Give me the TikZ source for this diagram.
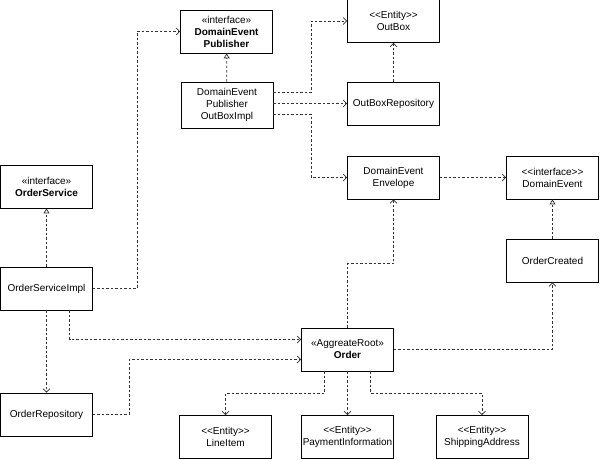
\documentclass[tikz,border=0pt]{standalone}
\usepackage{fontspec}
\setmainfont{Liberation Sans}
\usepackage{tikz}
\usetikzlibrary{positioning,calc,arrows.meta}
\definecolor{LineGray}{HTML}{333333}
\newcommand{\stereo}[1]{<\kern0pt<#1>\kern0pt>}

\begin{document}
\begin{tikzpicture}[
    x=1pt, y=-1pt,
    every node/.style={font=\fontsize{10}{12}\selectfont},
    box/.style={rectangle, draw=black, line width=0.8pt, minimum width=92pt, minimum height=43pt, inner sep=1pt, align=center},
    dep/.style={-{Straight Barb[length=3.5pt,width=7pt]}, dash pattern=on 2.5pt off 2pt, line width=0.7pt, color=LineGray},
    real/.style={-{Triangle[open,length=5pt,width=6pt]}, dash pattern=on 2.5pt off 2pt, line width=0.7pt, color=LineGray}
  ]
    \useasboundingbox (0,0) rectangle (600,459);

    % Publisher side (top)
    \node[box] (pub) at (226.5,31.5) {«interface»\\\textbf{DomainEvent}\\\textbf{Publisher}};
    \node[box] (outbox) at (393.5,21) {\stereo{Entity}\\OutBox};
    \node[box, minimum height=46pt] (pubimpl) at (227,105) {DomainEvent\\Publisher\\OutBoxImpl};
    \node[box] (outrepo) at (393.5,103.5) {OutBoxRepository};

    % Events (middle right)
    \node[box] (env) at (393.5,177.5) {DomainEvent\\Envelope};
    \node[box] (devent) at (552.5,177.5) {\stereo{interface}\\DomainEvent};
    \node[box] (created) at (552.5,260.5) {OrderCreated};

    % Service (left)
    \node[box] (osvc) at (46.5,186.5) {«interface»\\\textbf{OrderService}};
    \node[box] (osvcimpl) at (46.5,288.5) {OrderServiceImpl};
    \node[box] (orepo) at (46.5,414.5) {OrderRepository};

    % Aggregate (bottom)
    \node[box] (order) at (347.5,349.5) {«AggreateRoot»\\\textbf{Order}};
    \node[box] (line) at (225.5,437) {\stereo{Entity}\\LineItem};
    \node[box] (pay) at (347.5,437) {\stereo{Entity}\\PaymentInformation};
    \node[box] (ship) at (482,437) {\stereo{Entity}\\ShippingAddress};

    % Realizations
    \draw[real] (osvcimpl) -- (osvc);
    \draw[real] (pubimpl) -- (pub);
    \draw[real] (created) -- (devent);

    % Dependencies
    \draw[dep] (osvcimpl.east) -- ++(44,0) |- (pub.west);
    \draw[dep] ($(pubimpl.east)+(0,-13)$) -- ++(38,0) |- (outbox.west);
    \draw[dep] (pubimpl.east |- outrepo.west) -- (outrepo.west);
    \draw[dep] ($(pubimpl.east)+(0,9)$) -- ++(38,0) |- (env.west);
    \draw[dep] (outrepo) -- (outbox);
    \draw[dep] (env) -- (devent);
    \draw[dep] (order.north) -- ++(0,-64) -| (env.south);
    \draw[dep] (order.east) -| (created.south);
    \draw[dep] ($(osvcimpl.south)+(23,0)$) |- ($(order.west)+(0,-10)$);
    \draw[dep] (osvcimpl) -- (orepo);
    \draw[dep] (orepo.east) -- ++(36,0) |- ($(order.west)+(0,10)$);
    \draw[dep] ($(order.south)+(-23,0)$) -- ++(0,22) -| (line.north);
    \draw[dep] (order) -- (pay);
    \draw[dep] ($(order.south)+(23,0)$) -- ++(0,22) -| (ship.north);

\end{tikzpicture}
\end{document}
